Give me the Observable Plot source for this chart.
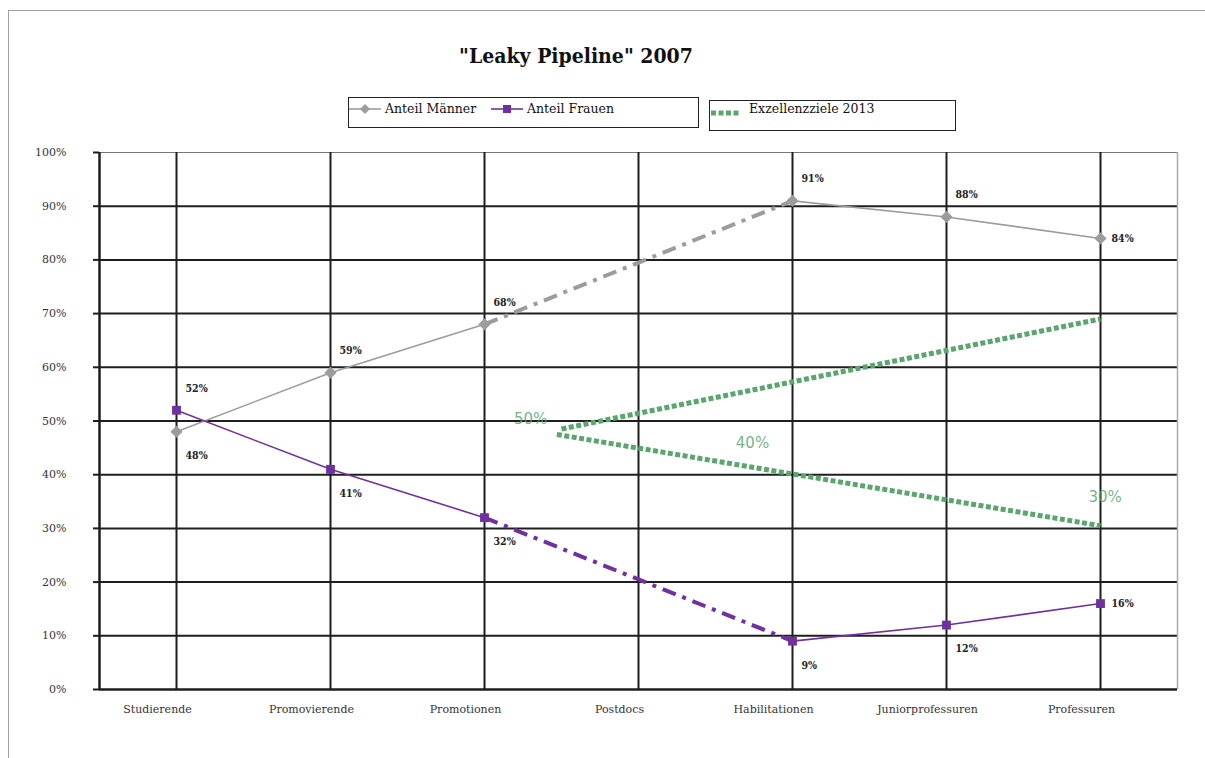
<!DOCTYPE html>
<html><head><meta charset="utf-8">
<script src="https://cdn.jsdelivr.net/npm/d3@7"></script>
<script src="https://cdn.jsdelivr.net/npm/@observablehq/plot@0.6"></script>
<style>
body{margin:0;background:#fff;font-family:"DejaVu Serif",serif;}
#wrap{position:relative;width:1205px;height:758px;overflow:hidden;background:#fff}
#frame{position:absolute;left:8px;top:10px;width:1220px;height:770px;border-left:1.5px solid #a0a0a0;border-top:1.5px solid #a0a0a0;pointer-events:none}
#chart{position:absolute;left:0;top:0}
#title{position:absolute;left:420px;width:312px;text-align:center;top:43px;font-size:21px;font-weight:bold;color:#111;white-space:nowrap;font-family:"DejaVu Serif Condensed","DejaVu Serif",serif;font-stretch:condensed}
.leg{position:absolute;border:1.5px solid #222;background:#fff;font-size:12.5px;color:#111;box-sizing:border-box}
.item{position:absolute;top:3px;display:flex;align-items:center;white-space:nowrap}
.item svg{margin-right:4px}
</style></head>
<body>
<div id="wrap">
  <div id="chart"></div>
  <div id="frame"></div>
  <div id="title"></div>
  <div class="leg" id="leg1" style="left:348px;top:97px;width:351px;height:31px"></div>
  <div class="leg" id="leg2" style="left:709px;top:100px;width:247px;height:31px"></div>
</div>
<script>
const title = "\"Leaky Pipeline\" 2007";
const categories = ["Studierende","Promovierende","Promotionen","Postdocs","Habilitationen","Juniorprofessuren","Professuren"];
const maenner = [48, 59, 68, null, 91, 88, 84];
const frauen  = [52, 41, 32, null, 9, 12, 16];
const maennerLabelPos = ["below","above","above",null,"above","above","right"];
const frauenLabelPos  = ["above","below","below",null,"below","below","right"];
const seriesNames = ["Anteil Männer","Anteil Frauen","Exzellenzziele 2013"];
// Exzellenzziele 2013: target lines (category index, percent)
const zielOben  = [{pos: 2.5, value: 48.5}, {pos: 6, value: 69}];
const zielUnten = [{pos: 2.47, value: 47.5}, {pos: 6, value: 30.5}];
const zielLabels = [{pos: 2.3, value: 50.3, text: "50%"}, {pos: 3.74, value: 45.8, text: "40%"}, {pos: 6.03, value: 35.8, text: "30%"}];
const yTicks = [0,10,20,30,40,50,60,70,80,90,100];

const colMen = "#9c9c9c", colWomen = "#7030a0", colGreen = "#5ba56f", grid = "#1e1e1e";
const font = "'DejaVu Serif',serif";
const fontCond = "'DejaVu Serif Condensed','DejaVu Serif',serif";

function toRows(arr, posArr) {
  return arr.map((v, i) => ({i, v, pos: posArr ? posArr[i] : null})).filter(d => d.v != null);
}
function solid(arr) { return arr.map((v, i) => ({i, v})); }
function bridges(arr) {
  const out = []; let seg = 0;
  for (let i = 0; i < arr.length; i++) {
    if (arr[i] == null) {
      let a = i - 1, b = i + 1;
      while (b < arr.length && arr[b] == null) b++;
      if (a >= 0 && b < arr.length) { out.push({i: a, v: arr[a], s: seg}, {i: b, v: arr[b], s: seg}); seg++; }
      i = b - 1;
    }
  }
  return out;
}
const men = toRows(maenner, maennerLabelPos), women = toRows(frauen, frauenLabelPos);
const pct = d => d.v + "%";
const lbl = {textAnchor: "start", fontSize: 10.5, fontWeight: "bold", fill: "#222", fontFamily: fontCond};

const chart = Plot.plot({
  width: 1205, height: 758,
  marginLeft: 99, marginRight: 28, marginTop: 152, marginBottom: 69,
  style: {fontFamily: font, background: "transparent"},
  x: {type: "linear", domain: [-0.5, 6.5], axis: null},
  y: {domain: [0, 100], axis: null},
  marks: [
    Plot.ruleY([100], {stroke: "#777", strokeWidth: 1.2}),
    Plot.ruleY(yTicks.filter(t => t > 0 && t < 100), {stroke: grid, strokeWidth: 2}),
    Plot.ruleX(categories.map((c, i) => i), {stroke: grid, strokeWidth: 2}),
    Plot.ruleX([6.5], {stroke: "#aaa", strokeWidth: 1.5}),
    Plot.axisY({ticks: yTicks, tickFormat: d => d + "%", tickSize: 6, tickPadding: 27, fontSize: 11, stroke: grid, strokeWidth: 2, color: "#333"}),
    Plot.axisX({ticks: categories.map((c, i) => i), tickFormat: i => categories[i], tickSize: 0, tickPadding: 16, dx: -19, fontSize: 11, color: "#333"}),
    Plot.ruleX([-0.5], {stroke: grid, strokeWidth: 2.5}),
    Plot.ruleY([0], {stroke: grid, strokeWidth: 2.5}),
    // targets
    Plot.line(zielOben, {x: "pos", y: "value", stroke: colGreen, strokeWidth: 5, strokeDasharray: "5,2.5", strokeLinecap: "butt"}),
    Plot.line(zielUnten, {x: "pos", y: "value", stroke: colGreen, strokeWidth: 5, strokeDasharray: "5,2.5", strokeLinecap: "butt"}),
    Plot.text(zielLabels, {x: "pos", y: "value", text: "text", fill: colGreen, fontSize: 15, fontFamily: "DejaVu Sans, sans-serif", fillOpacity: 0.85}),
    // men
    Plot.line(solid(maenner), {x: "i", y: "v", stroke: colMen, strokeWidth: 1.6}),
    Plot.line(bridges(maenner), {x: "i", y: "v", z: "s", stroke: colMen, strokeWidth: 4, strokeDasharray: "14,7,4,7", strokeLinecap: "butt"}),
    // women
    Plot.line(solid(frauen), {x: "i", y: "v", stroke: colWomen, strokeWidth: 1.6}),
    Plot.line(bridges(frauen), {x: "i", y: "v", z: "s", stroke: colWomen, strokeWidth: 4, strokeDasharray: "14,7,4,7", strokeLinecap: "butt"}),
    Plot.dot(men, {x: "i", y: "v", symbol: "diamond2", r: 5.5, fill: colMen, stroke: "none"}),
    Plot.dot(women, {x: "i", y: "v", symbol: "square", r: 5, fill: colWomen, stroke: "none"}),
    // value labels
    ...[men, women].flatMap(rows => [
      Plot.text(rows.filter(d => d.pos === "above"), {x: "i", y: "v", text: pct, dx: 9, dy: -22, ...lbl}),
      Plot.text(rows.filter(d => d.pos === "below"), {x: "i", y: "v", text: pct, dx: 9, dy: 24, ...lbl}),
      Plot.text(rows.filter(d => d.pos === "right"), {x: "i", y: "v", text: pct, dx: 11, dy: 0, ...lbl})
    ])
  ]
});
document.getElementById("chart").appendChild(chart);
document.getElementById("title").textContent = title;

function swatch(kind) {
  if (kind === "men") return `<svg width="32" height="12"><line x1="0" y1="6" x2="32" y2="6" stroke="${colMen}" stroke-width="1.6"/><path d="M16 1 L21 6 L16 11 L11 6Z" fill="${colMen}"/></svg>`;
  if (kind === "women") return `<svg width="32" height="12"><line x1="0" y1="6" x2="32" y2="6" stroke="${colWomen}" stroke-width="1.6"/><rect x="12" y="2" width="8" height="8" fill="${colWomen}"/></svg>`;
  return `<svg width="28" height="14"><line x1="0" y1="11" x2="28" y2="11" stroke="${colGreen}" stroke-width="5" stroke-dasharray="5,2.5"/></svg>`;
}
document.getElementById("leg1").innerHTML =
  `<div class="item" style="left:0px">${swatch("men")}<span>${seriesNames[0]}</span></div>` +
  `<div class="item" style="left:142px">${swatch("women")}<span>${seriesNames[1]}</span></div>`;
document.getElementById("leg2").innerHTML =
  `<div class="item" style="left:1px;top:0px">${swatch("ziel")}<span style="margin-left:6px">${seriesNames[2]}</span></div>`;
</script>
</body></html>
